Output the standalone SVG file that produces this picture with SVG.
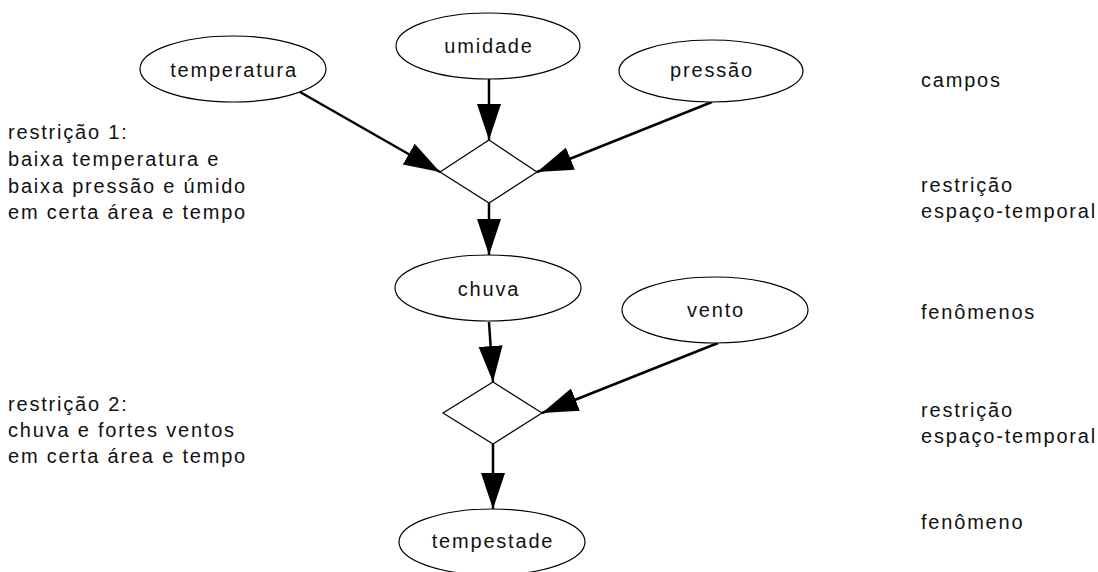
<svg xmlns="http://www.w3.org/2000/svg" width="1098" height="572" viewBox="0 0 1098 572">
<style>
.n{fill:#fff;stroke:#000;stroke-width:1.2}
.t{font-family:"Liberation Sans",Arial,sans-serif;font-size:20px;letter-spacing:1.8px;fill:#111}
.c{text-anchor:middle}
.e{stroke:#000;stroke-width:2.5;fill:none;marker-end:url(#ah)}
</style>
<defs>
<marker id="ah" markerUnits="userSpaceOnUse" markerWidth="38" markerHeight="26" refX="36" refY="12" orient="auto">
<path d="M0,0 L36,12 L0,24 z" fill="#000"/>
</marker>
</defs>
<rect width="1098" height="572" fill="#fff"/>
<g id="connectors">
<line class="e" x1="300" y1="92" x2="440" y2="172"/>
<line class="e" x1="489" y1="79" x2="489" y2="140"/>
<line class="e" x1="712" y1="102" x2="537" y2="172"/>
<line class="e" x1="489" y1="203" x2="489" y2="255"/>
<line class="e" x1="489" y1="322" x2="493" y2="382"/>
<line class="e" x1="718" y1="343" x2="542" y2="413"/>
<line class="e" x1="493" y1="444" x2="493" y2="509"/>
</g>
<g id="temperatura"><ellipse class="n" cx="233" cy="69" rx="93" ry="33"/><text class="t c" x="234" y="77">temperatura</text></g>
<g id="umidade"><ellipse class="n" cx="488" cy="46" rx="92" ry="33"/><text class="t c" x="489" y="53">umidade</text></g>
<g id="pressao"><ellipse class="n" cx="711" cy="71" rx="92" ry="31"/><text class="t c" x="712" y="77">pressão</text></g>
<g id="restricao1"><polygon class="n" points="489,140 537,172 489,203 440,172"/></g>
<g id="chuva"><ellipse class="n" cx="488" cy="288" rx="93" ry="33"/><text class="t c" x="489" y="296">chuva</text></g>
<g id="vento"><ellipse class="n" cx="715" cy="310" rx="93" ry="33"/><text class="t c" x="716" y="317">vento</text></g>
<g id="restricao2"><polygon class="n" points="493,382 542,413 493,444 443,413"/></g>
<g id="tempestade"><ellipse class="n" cx="492" cy="542" rx="93" ry="33"/><text class="t c" x="493" y="548">tempestade</text></g>
<g id="left-labels">
<text class="t" x="8" y="139">restrição 1:</text>
<text class="t" x="8" y="166">baixa temperatura e</text>
<text class="t" x="8" y="193">baixa pressão e úmido</text>
<text class="t" x="8" y="219">em certa área e tempo</text>
<text class="t" x="8" y="411">restrição 2:</text>
<text class="t" x="8" y="437">chuva e fortes ventos</text>
<text class="t" x="8" y="463">em certa área e tempo</text>
</g>
<g id="right-labels">
<text class="t" x="921" y="87">campos</text>
<text class="t" x="921" y="192">restrição</text>
<text class="t" x="921" y="218">espaço-temporal</text>
<text class="t" x="921" y="319">fenômenos</text>
<text class="t" x="921" y="417">restrição</text>
<text class="t" x="921" y="443">espaço-temporal</text>
<text class="t" x="921" y="529">fenômeno</text>
</g>
</svg>
